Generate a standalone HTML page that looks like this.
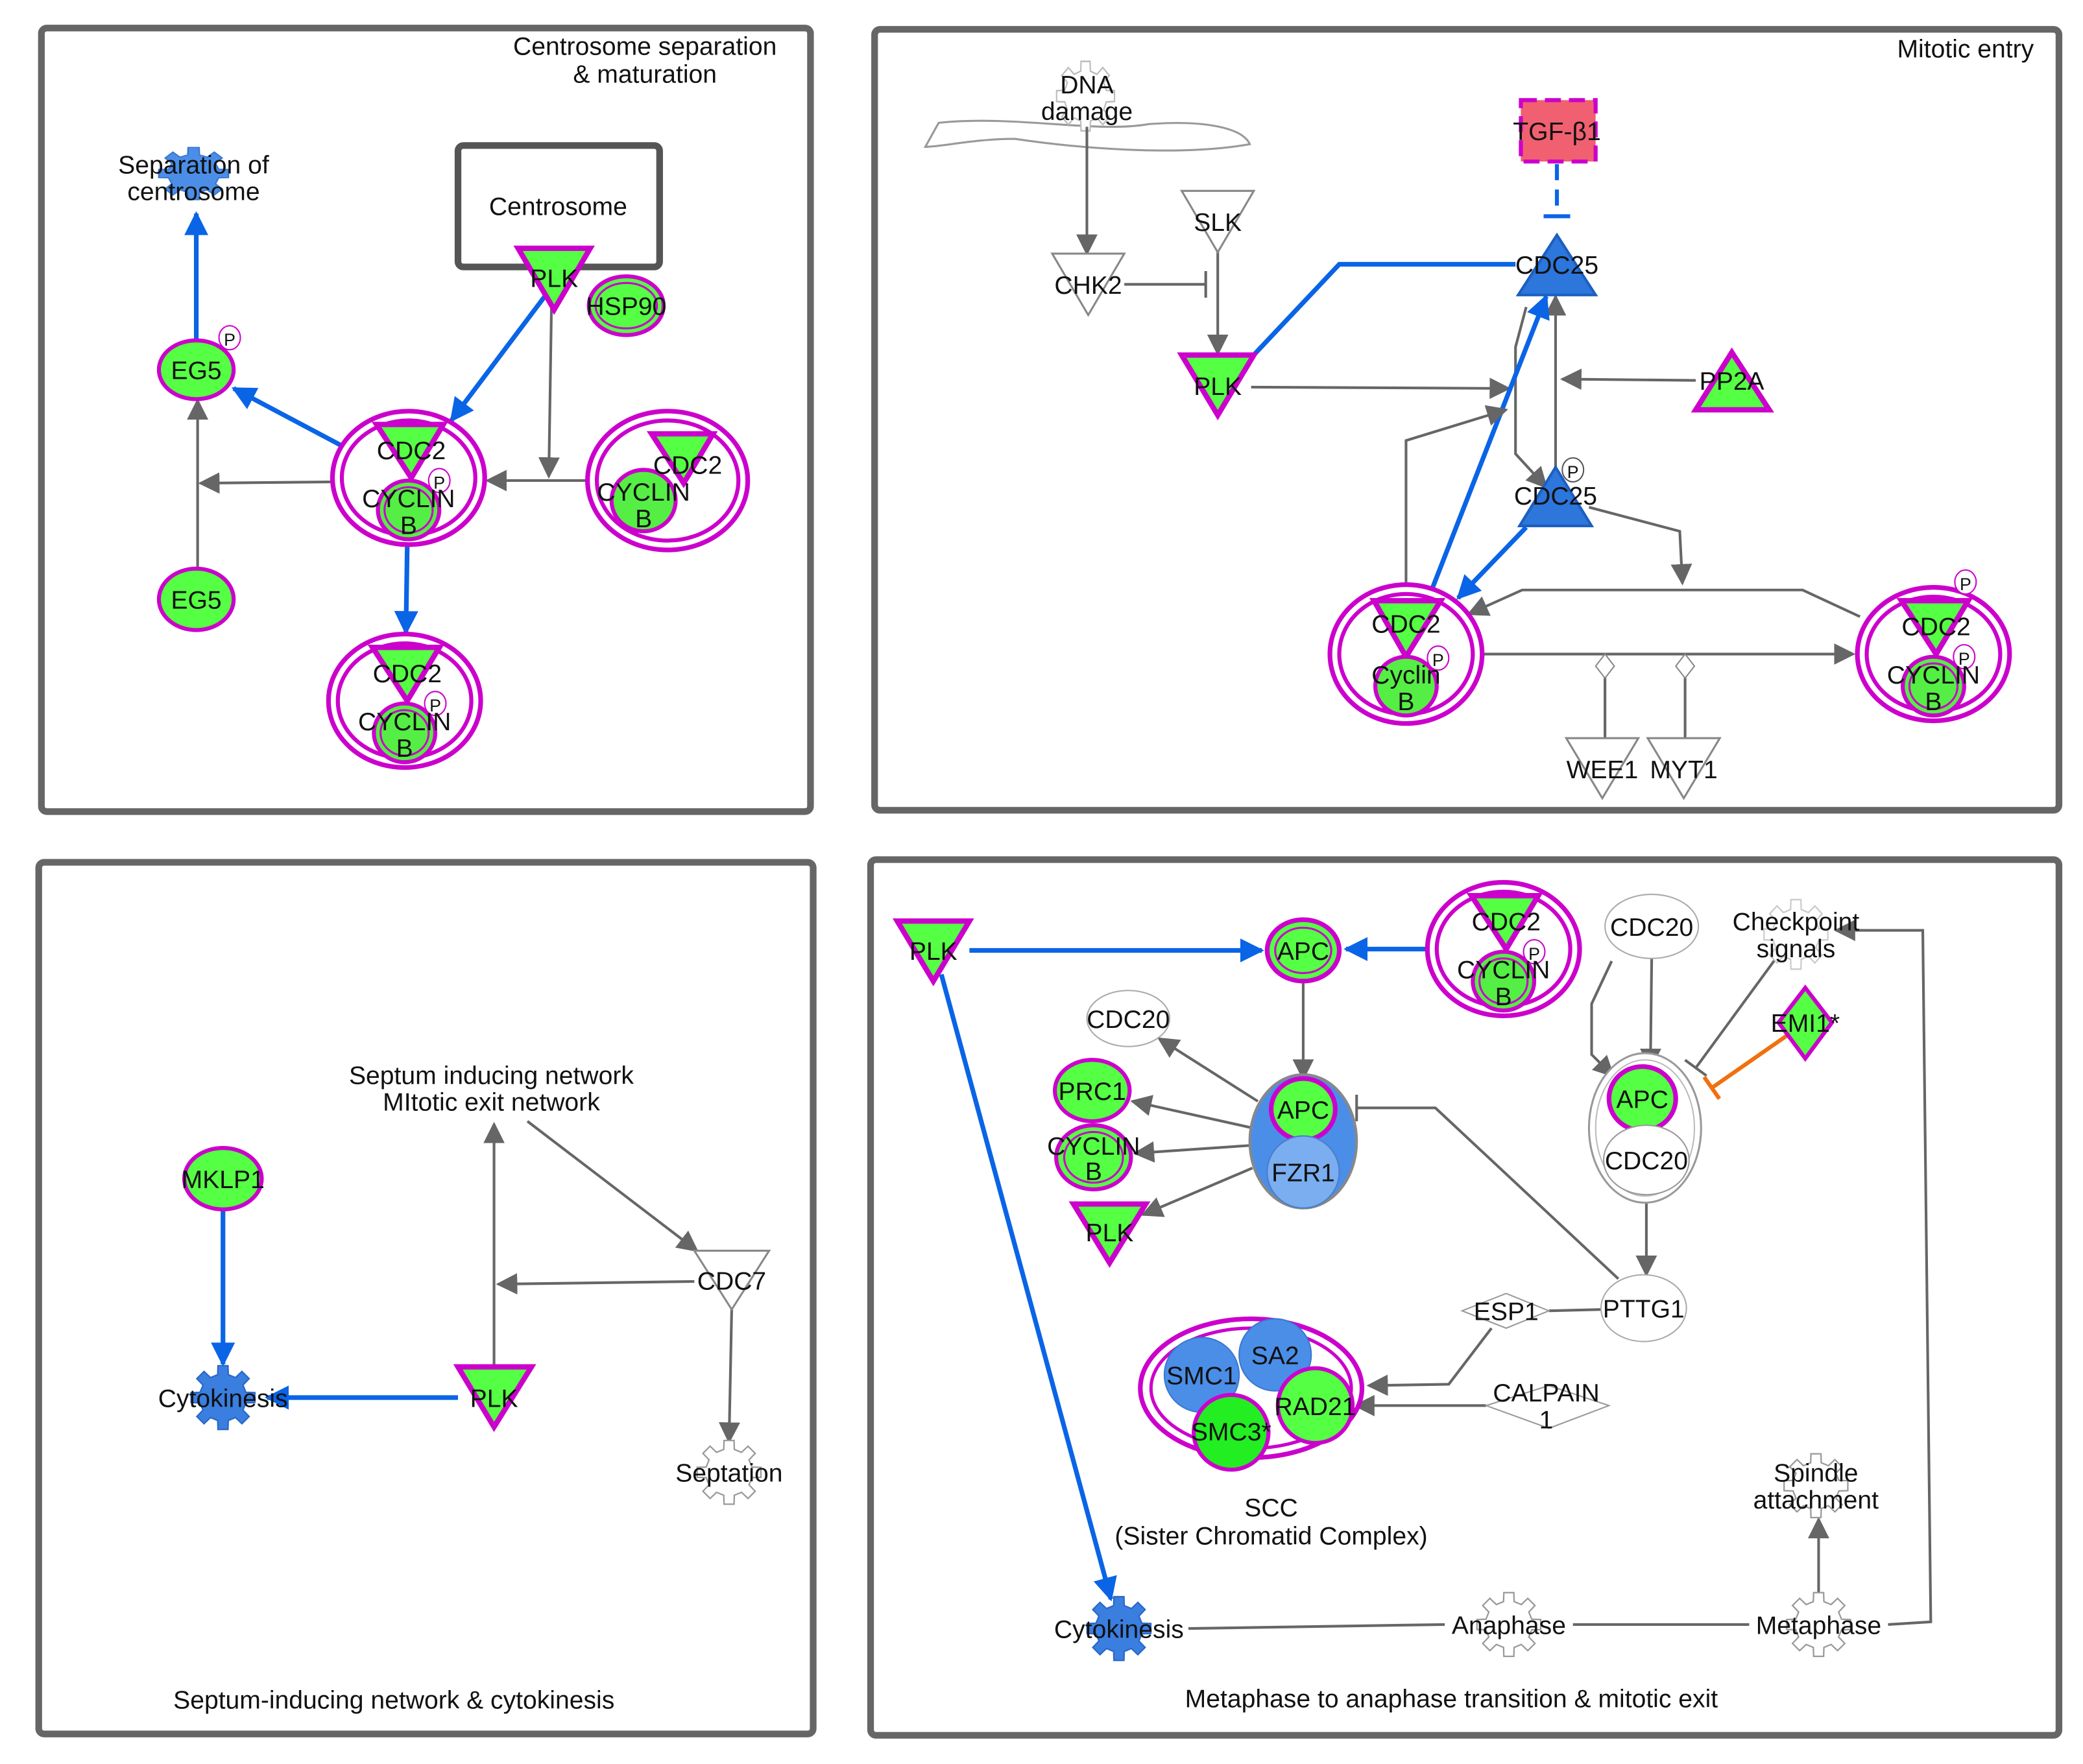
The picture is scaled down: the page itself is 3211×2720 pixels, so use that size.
<!DOCTYPE html>
<html><head><meta charset="utf-8"><style>
html,body{margin:0;padding:0;background:#fff}
svg{display:block}
text{font-family:"Liberation Sans",sans-serif;font-size:19px;fill:#111;text-anchor:middle}
</style></head><body>
<svg width="3211" height="2720" viewBox="0 0 1560 1321.5" preserveAspectRatio="none" xmlns="http://www.w3.org/2000/svg">
<defs>
<polygon id="gear" points="15.6,-3.6 21.7,-3.4 21.7,3.4 15.6,3.6 13.6,8.5 17.8,12.9 12.9,17.8 8.5,13.6 3.6,15.6 3.4,21.7 -3.4,21.7 -3.6,15.6 -8.5,13.6 -12.9,17.8 -17.8,12.9 -13.6,8.5 -15.6,3.6 -21.7,3.4 -21.7,-3.4 -15.6,-3.6 -13.6,-8.5 -17.8,-12.9 -12.9,-17.8 -8.5,-13.6 -3.6,-15.6 -3.4,-21.7 3.4,-21.7 3.6,-15.6 8.5,-13.6 12.9,-17.8 17.8,-12.9 13.6,-8.5"/>
<marker id="agb" viewBox="0 0 10 10" refX="9" refY="5" markerWidth="16" markerHeight="16" orient="auto" markerUnits="userSpaceOnUse"><path d="M0,0L10,5L0,10z" fill="#666"/></marker>
<marker id="ab" viewBox="0 0 10 10" refX="9" refY="5" markerWidth="18" markerHeight="18" orient="auto" markerUnits="userSpaceOnUse"><path d="M0,0L10,5L0,10z" fill="#0a64e6"/></marker>
<marker id="ig" viewBox="0 0 4 20" refX="2" refY="10" markerWidth="4" markerHeight="20" orient="auto" markerUnits="userSpaceOnUse"><path d="M2,0V20" stroke="#666" stroke-width="2"/></marker>
<marker id="ib" viewBox="0 0 4 20" refX="2" refY="10" markerWidth="4" markerHeight="20" orient="auto" markerUnits="userSpaceOnUse"><path d="M2,0V20" stroke="#0a64e6" stroke-width="3"/></marker>
<marker id="io" viewBox="0 0 4 20" refX="2" refY="10" markerWidth="4" markerHeight="20" orient="auto" markerUnits="userSpaceOnUse"><path d="M2,0V20" stroke="#f07010" stroke-width="3"/></marker>
<g id="cx">
 <ellipse cx="0" cy="0" rx="57" ry="50" fill="#fff" stroke="#cc00cc" stroke-width="3.5"/>
 <ellipse cx="0" cy="0" rx="50" ry="43" fill="none" stroke="#cc00cc" stroke-width="3"/>
 <polygon points="-24,-40 26,-40 2,0" fill="#55ff44" stroke="#cc00cc" stroke-width="4"/>
 <ellipse cx="0" cy="24" rx="23" ry="22" fill="#55ee44" stroke="#cc00cc" stroke-width="3"/>
 <ellipse cx="0" cy="24" rx="18" ry="17" fill="none" stroke="#cc00cc" stroke-width="1.5"/>
 <ellipse cx="23" cy="2" rx="8" ry="9" fill="#fff" stroke="#cc00cc" stroke-width="1"/>
 <text x="23" y="8" style="font-size:13px">P</text>
 <text x="2" y="-14">CDC2</text>
 <text x="0" y="22">CYCLIN</text>
 <text x="0" y="42">B</text>
</g>
</defs>
<g fill="none" stroke="#666" stroke-width="5">
<rect x="31" y="21" width="576" height="587" rx="4"/>
<rect x="655" y="22" width="887" height="585" rx="4"/>
<rect x="29" y="646" width="580" height="653" rx="4"/>
<rect x="652" y="644" width="890" height="656" rx="4"/>
</g>

<!-- PANEL 1 -->
<text x="483" y="41">Centrosome separation</text>
<text x="483" y="62">&amp; maturation</text>
<use href="#gear" transform="translate(145,130) scale(1.2,0.9)" fill="#4a8ee8" stroke="#3a78d0"/>
<text x="145" y="130">Separation of</text>
<text x="145" y="150">centrosome</text>
<rect x="343" y="109" width="151" height="91" rx="4" fill="none" stroke="#555" stroke-width="5"/>
<text x="418" y="161">Centrosome</text>
<g stroke-width="2" fill="none">
<line x1="147" y1="255" x2="147" y2="160" stroke="#0a64e6" stroke-width="3.5" marker-end="url(#ab)"/>
<line x1="258" y1="335" x2="175" y2="291" stroke="#0a64e6" stroke-width="3.5" marker-end="url(#ab)"/>
<line x1="408" y1="222" x2="338" y2="315" stroke="#0a64e6" stroke-width="3.5" marker-end="url(#ab)"/>
<line x1="305" y1="408" x2="304" y2="474" stroke="#0a64e6" stroke-width="3.5" marker-end="url(#ab)"/>
<line x1="413" y1="230" x2="411" y2="357" stroke="#666" marker-end="url(#agb)"/>
<line x1="440" y1="360" x2="365" y2="360" stroke="#666" marker-end="url(#agb)"/>
<line x1="248" y1="361" x2="150" y2="362" stroke="#666" marker-end="url(#agb)"/>
<line x1="148" y1="427" x2="148" y2="300" stroke="#666" marker-end="url(#agb)"/>
</g>
<polygon points="388,186 442,186 415,232" fill="#55ff44" stroke="#cc00cc" stroke-width="4"/>
<text x="415" y="215">PLK</text>
<ellipse cx="469" cy="229" rx="28" ry="22" fill="#55ff44" stroke="#cc00cc" stroke-width="3"/>
<ellipse cx="469" cy="229" rx="23" ry="17" fill="none" stroke="#cc00cc" stroke-width="1.5"/>
<text x="469" y="236">HSP90</text>
<ellipse cx="147" cy="277" rx="28" ry="22" fill="#55ff44" stroke="#cc00cc" stroke-width="3"/>
<text x="147" y="284">EG5</text>
<ellipse cx="172" cy="253" rx="8" ry="9" fill="#fff" stroke="#cc00cc"/><text x="172" y="259" style="font-size:13px">P</text>
<ellipse cx="147" cy="449" rx="28" ry="23" fill="#55ff44" stroke="#cc00cc" stroke-width="3"/>
<text x="147" y="456">EG5</text>
<use href="#cx" transform="translate(306,358)"/>
<g transform="translate(500,360)">
 <ellipse rx="60" ry="52" fill="#fff" stroke="#cc00cc" stroke-width="3.5"/>
 <ellipse rx="53" ry="45" fill="none" stroke="#cc00cc" stroke-width="3"/>
 <polygon points="-12,-35 34,-35 12,2" fill="#55ff44" stroke="#cc00cc" stroke-width="4"/>
 <ellipse cx="-18" cy="15" rx="24" ry="23" fill="#55ee44" stroke="#cc00cc" stroke-width="3"/>
 <text x="15" y="-5">CDC2</text>
 <text x="-18" y="15">CYCLIN</text>
 <text x="-18" y="35">B</text>
</g>
<use href="#cx" transform="translate(303,525)"/>

<!-- PANEL 2 -->
<text x="1472" y="43">Mitotic entry</text>
<path d="M693,110 L703,92 C760,86 820,100 860,93 C900,90 930,95 936,108 C880,118 800,110 760,104 C730,104 705,110 693,110z" fill="none" stroke="#999" stroke-width="1.5"/>
<use href="#gear" transform="translate(813,72) scale(1,1.2)" fill="#fff" stroke="#bbb"/>
<text x="814" y="70">DNA</text>
<text x="814" y="90">damage</text>
<g stroke-width="2" fill="none">
<line x1="814" y1="95" x2="814" y2="190" stroke="#666" marker-end="url(#agb)"/>
<line x1="842" y1="213" x2="903" y2="213" stroke="#666" marker-end="url(#ig)"/>
<line x1="912" y1="188" x2="912" y2="265" stroke="#666" marker-end="url(#agb)"/>
<line x1="937" y1="290" x2="1130" y2="291" stroke="#666" marker-end="url(#agb)"/>
<polyline points="937,268 1003,198 1135,198" stroke="#0a64e6" stroke-width="3.5"/>
<line x1="1166" y1="123" x2="1166" y2="162" stroke="#0a64e6" stroke-width="3" stroke-dasharray="12,7" marker-end="url(#ib)"/>
<line x1="1270" y1="285" x2="1170" y2="284" stroke="#666" marker-end="url(#agb)"/>
<polyline points="1143,230 1135,260 1135,340 1158,365" stroke="#666" marker-end="url(#agb)"/>
<line x1="1165" y1="350" x2="1165" y2="222" stroke="#666" marker-end="url(#agb)"/>
<line x1="1143" y1="395" x2="1092" y2="448" stroke="#0a64e6" stroke-width="3.5" marker-end="url(#ab)"/>
<line x1="1073" y1="440" x2="1158" y2="222" stroke="#0a64e6" stroke-width="3.5" marker-end="url(#ab)"/>
<polyline points="1053,440 1053,330 1128,307" stroke="#666" marker-end="url(#agb)"/>
<polyline points="1190,380 1258,398 1260,437" stroke="#666" marker-end="url(#agb)"/>
<polyline points="1393,462 1350,442 1140,442 1100,460" stroke="#666" marker-end="url(#agb)"/>
<line x1="1110" y1="490" x2="1388" y2="490" stroke="#666" marker-end="url(#agb)"/>
<line x1="1202" y1="490" x2="1202" y2="553" stroke="#666"/>
<line x1="1262" y1="490" x2="1262" y2="553" stroke="#666"/>
</g>
<polygon points="1202,490 1209,499 1202,508 1195,499" fill="#fff" stroke="#888"/>
<polygon points="1262,490 1269,499 1262,508 1255,499" fill="#fff" stroke="#888"/>
<polygon points="788,190 842,190 815,236" fill="#fff" stroke="#888" stroke-width="1.5"/>
<text x="815" y="220">CHK2</text>
<polygon points="885,143 939,143 912,189" fill="#fff" stroke="#888" stroke-width="1.5"/>
<text x="912" y="173">SLK</text>
<polygon points="885,266 939,266 912,311" fill="#55ff44" stroke="#cc00cc" stroke-width="4"/>
<text x="912" y="296">PLK</text>
<rect x="1139" y="75" width="56" height="46" fill="#f06070" stroke="#cc00cc" stroke-width="3" stroke-dasharray="12,6"/>
<text x="1166" y="105">TGF-β1</text>
<polygon points="1137,221 1195,221 1166,176" fill="#2c76dc" stroke="#1d5fc0" stroke-width="2"/>
<text x="1166" y="205">CDC25</text>
<polygon points="1270,307 1325,307 1297,264" fill="#55ff44" stroke="#cc00cc" stroke-width="4"/>
<text x="1297" y="292">PP2A</text>
<polygon points="1138,394 1192,394 1165,350" fill="#2c76dc" stroke="#1d5fc0" stroke-width="2"/>
<text x="1165" y="378">CDC25</text>
<ellipse cx="1178" cy="352" rx="8" ry="9" fill="#fff" stroke="#555"/><text x="1178" y="358" style="font-size:13px">P</text>
<g transform="translate(1053,490)">
 <ellipse rx="57" ry="52" fill="#fff" stroke="#cc00cc" stroke-width="3.5"/>
 <ellipse rx="50" ry="45" fill="none" stroke="#cc00cc" stroke-width="3"/>
 <polygon points="-24,-40 26,-40 0,2" fill="#55ff44" stroke="#cc00cc" stroke-width="4"/>
 <ellipse cx="0" cy="24" rx="23" ry="22" fill="#55ee44" stroke="#cc00cc" stroke-width="3"/>
 <ellipse cx="24" cy="3" rx="8" ry="9" fill="#fff" stroke="#cc00cc"/><text x="24" y="9" style="font-size:13px">P</text>
 <text x="0" y="-16">CDC2</text>
 <text x="0" y="22">Cyclin</text>
 <text x="0" y="42">B</text>
</g>
<use href="#cx" transform="translate(1448,490)"/>
<ellipse cx="1472" cy="436" rx="8" ry="9" fill="#fff" stroke="#cc00cc"/><text x="1472" y="442" style="font-size:13px">P</text>
<polygon points="1173,553 1227,553 1200,598" fill="#fff" stroke="#888" stroke-width="1.5"/>
<polygon points="1234,553 1288,553 1261,598" fill="#fff" stroke="#888" stroke-width="1.5"/>
<text x="1200" y="583">WEE1</text>
<text x="1261" y="583">MYT1</text>

<!-- PANEL 3 -->
<text x="368" y="812">Septum inducing network</text>
<text x="368" y="832">MItotic exit network</text>
<g stroke-width="2" fill="none">
<line x1="167" y1="906" x2="167" y2="1022" stroke="#0a64e6" stroke-width="3.5" marker-end="url(#ab)"/>
<line x1="343" y1="1047" x2="200" y2="1047" stroke="#0a64e6" stroke-width="3.5" marker-end="url(#ab)"/>
<line x1="370" y1="1024" x2="370" y2="842" stroke="#666" marker-end="url(#agb)"/>
<line x1="395" y1="840" x2="522" y2="937" stroke="#666" marker-end="url(#agb)"/>
<line x1="520" y1="960" x2="373" y2="962" stroke="#666" marker-end="url(#agb)"/>
<line x1="548" y1="980" x2="546" y2="1080" stroke="#666" marker-end="url(#agb)"/>
</g>
<ellipse cx="167" cy="883" rx="29" ry="23" fill="#55ff44" stroke="#cc00cc" stroke-width="3"/>
<text x="167" y="890">MKLP1</text>
<use href="#gear" transform="translate(167,1047) scale(1.1)" fill="#3a7ee0" stroke="#2a68c8"/>
<text x="167" y="1054">Cytokinesis</text>
<polygon points="343,1024 398,1024 370,1069" fill="#55ff44" stroke="#cc00cc" stroke-width="4"/>
<text x="370" y="1054">PLK</text>
<polygon points="520,937 576,937 548,981" fill="#fff" stroke="#888" stroke-width="1.5"/>
<text x="548" y="966">CDC7</text>
<use href="#gear" transform="translate(546,1103) scale(1.1)" fill="#fff" stroke="#999"/>
<text x="546" y="1110">Septation</text>
<text x="295" y="1280">Septum-inducing network &amp; cytokinesis</text>

<!-- PANEL 4 -->
<g stroke-width="2" fill="none">
<line x1="726" y1="712" x2="945" y2="712" stroke="#0a64e6" stroke-width="3.5" marker-end="url(#ab)"/>
<line x1="1068" y1="711" x2="1008" y2="711" stroke="#0a64e6" stroke-width="3.5" marker-end="url(#ab)"/>
<line x1="705" y1="730" x2="832" y2="1198" stroke="#0a64e6" stroke-width="3.5" marker-end="url(#ab)"/>
<line x1="976" y1="734" x2="976" y2="808" stroke="#666" marker-end="url(#agb)"/>
<line x1="942" y1="825" x2="868" y2="778" stroke="#666" marker-end="url(#agb)"/>
<line x1="938" y1="845" x2="848" y2="825" stroke="#666" marker-end="url(#agb)"/>
<line x1="938" y1="858" x2="850" y2="864" stroke="#666" marker-end="url(#agb)"/>
<line x1="938" y1="875" x2="856" y2="910" stroke="#666" marker-end="url(#agb)"/>
<polyline points="1212,958 1075,830 1016,830" stroke="#666" marker-end="url(#ig)"/>
<line x1="1237" y1="717" x2="1236" y2="800" stroke="#666" marker-end="url(#agb)"/>
<polyline points="1207,720 1192,752 1192,790 1208,806" stroke="#666" marker-end="url(#agb)"/>
<line x1="1330" y1="718" x2="1270" y2="800" stroke="#666" marker-end="url(#ig)"/>
<line x1="1338" y1="776" x2="1282" y2="815" stroke="#f07010" stroke-width="3" marker-end="url(#io)"/>
<line x1="1233" y1="900" x2="1233" y2="955" stroke="#666" marker-end="url(#agb)"/>
<line x1="1160" y1="982" x2="1199" y2="981" stroke="#666"/>
<polyline points="1117,995 1085,1037 1025,1038" stroke="#666" marker-end="url(#agb)"/>
<line x1="1113" y1="1053" x2="1015" y2="1053" stroke="#666" marker-end="url(#agb)"/>
<line x1="890" y1="1220" x2="1082" y2="1217" stroke="#666"/>
<line x1="1178" y1="1217" x2="1310" y2="1217" stroke="#666"/>
<polyline points="1414,1217 1446,1215 1440,697 1375,697" stroke="#666" marker-end="url(#agb)"/>
<line x1="1362" y1="1195" x2="1362" y2="1138" stroke="#666" marker-end="url(#agb)"/>
</g>
<polygon points="672,690 726,690 699,735" fill="#55ff44" stroke="#cc00cc" stroke-width="4"/>
<text x="699" y="719">PLK</text>
<ellipse cx="976" cy="712" rx="27" ry="23" fill="#55ff44" stroke="#cc00cc" stroke-width="3.5"/>
<ellipse cx="976" cy="712" rx="21" ry="17" fill="none" stroke="#cc00cc" stroke-width="1.5"/>
<text x="976" y="719">APC</text>
<use href="#cx" transform="translate(1126,711)"/>
<ellipse cx="845" cy="763" rx="31" ry="21" fill="#fff" stroke="#aaa"/>
<text x="845" y="770">CDC20</text>
<ellipse cx="818" cy="817" rx="28" ry="23" fill="#55ff44" stroke="#cc00cc" stroke-width="3"/>
<text x="818" y="824">PRC1</text>
<ellipse cx="819" cy="867" rx="28" ry="24" fill="#55ff44" stroke="#cc00cc" stroke-width="3"/>
<ellipse cx="819" cy="867" rx="22" ry="19" fill="none" stroke="#cc00cc" stroke-width="1.5"/>
<text x="819" y="865">CYCLIN</text><text x="819" y="884">B</text>
<polygon points="804,902 858,902 831,946" fill="#55ff44" stroke="#cc00cc" stroke-width="4"/>
<text x="831" y="930">PLK</text>
<ellipse cx="976" cy="855" rx="40" ry="50" fill="#4a8ee8" stroke="#888" stroke-width="2"/>
<ellipse cx="976" cy="831" rx="24" ry="23" fill="#55ff44" stroke="#cc00cc" stroke-width="3.5"/>
<text x="976" y="838">APC</text>
<ellipse cx="976" cy="878" rx="27" ry="27" fill="#7aaef0" stroke="#4a7ec8"/>
<text x="976" y="885">FZR1</text>
<ellipse cx="1237" cy="694" rx="35" ry="24" fill="#fff" stroke="#aaa"/>
<text x="1237" y="701">CDC20</text>
<use href="#gear" transform="translate(1345,700) scale(1.1,1.2)" fill="#fff" stroke="#ccc"/>
<text x="1345" y="697">Checkpoint</text><text x="1345" y="717">signals</text>
<polygon points="1352,740 1372,766 1352,793 1332,766" fill="#55ff44" stroke="#cc00cc" stroke-width="3"/>
<text x="1352" y="773">EMI1*</text>
<ellipse cx="1232" cy="845" rx="42" ry="56" fill="#fff" stroke="#999" stroke-width="1.5"/>
<ellipse cx="1232" cy="845" rx="37" ry="51" fill="none" stroke="#bbb"/>
<ellipse cx="1230" cy="823" rx="25" ry="24" fill="#55ff44" stroke="#cc00cc" stroke-width="3.5"/>
<text x="1230" y="830">APC</text>
<ellipse cx="1233" cy="869" rx="32" ry="26" fill="#fff" stroke="#999"/>
<text x="1233" y="876">CDC20</text>
<ellipse cx="1231" cy="980" rx="32" ry="25" fill="#fff" stroke="#aaa"/>
<text x="1231" y="987">PTTG1</text>
<polygon points="1095,982 1128,969 1160,982 1128,995" fill="#fff" stroke="#999"/>
<text x="1128" y="989">ESP1</text>
<ellipse cx="937" cy="1040" rx="83" ry="52" fill="#fff" stroke="#cc00cc" stroke-width="3.5"/>
<ellipse cx="937" cy="1040" rx="75" ry="45" fill="none" stroke="#cc00cc" stroke-width="2.5"/>
<circle cx="900" cy="1030" r="28" fill="#4a8ee8" stroke="#3a78d0"/>
<circle cx="955" cy="1015" r="27" fill="#4a8ee8" stroke="#3a78d0"/>
<circle cx="985" cy="1053" r="28" fill="#55ff44" stroke="#cc00cc" stroke-width="3"/>
<circle cx="922" cy="1073" r="28" fill="#22ee22" stroke="#cc00cc" stroke-width="3"/>
<text x="900" y="1037">SMC1</text><text x="955" y="1022">SA2</text>
<text x="985" y="1060">RAD21</text><text x="922" y="1079">SMC3*</text>
<polygon points="1113,1053 1160,1038 1205,1053 1160,1070" fill="#fff" stroke="#999"/>
<text x="1158" y="1050">CALPAIN</text><text x="1158" y="1070">1</text>
<text x="952" y="1136">SCC</text>
<text x="952" y="1157">(Sister Chromatid Complex)</text>
<use href="#gear" transform="translate(838,1220) scale(1.1)" fill="#3a7ee0" stroke="#2a68c8"/>
<text x="838" y="1227">Cytokinesis</text>
<use href="#gear" transform="translate(1130,1217) scale(1.1)" fill="#fff" stroke="#999"/>
<text x="1130" y="1224">Anaphase</text>
<use href="#gear" transform="translate(1362,1217) scale(1.1)" fill="#fff" stroke="#999"/>
<text x="1362" y="1224">Metaphase</text>
<use href="#gear" transform="translate(1360,1113) scale(1.1,1.1)" fill="#fff" stroke="#999"/>
<text x="1360" y="1110">Spindle</text><text x="1360" y="1130">attachment</text>
<text x="1087" y="1279">Metaphase to anaphase transition &amp; mitotic exit</text>
</svg>
</body></html>
